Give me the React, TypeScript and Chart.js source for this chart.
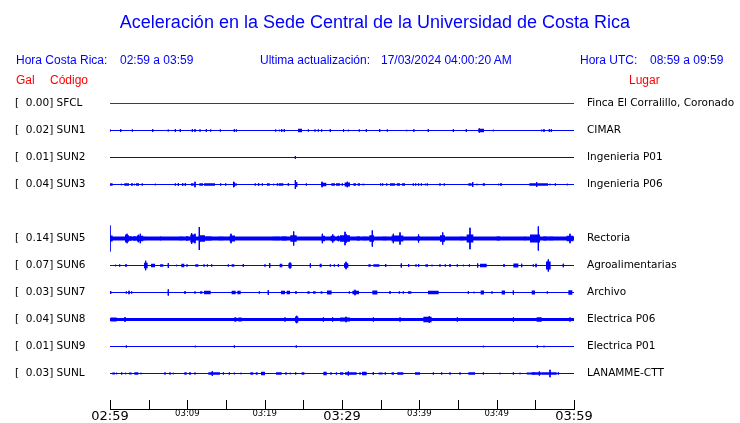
import React, { useEffect, useRef } from 'react';
import { Chart, registerables } from 'chart.js';

Chart.register(...registerables);

// ---------- data ----------
const stations = ['SFCL', 'SUN1', 'SUN2', 'SUN3', 'SUN5', 'SUN6', 'SUN7', 'SUN8', 'SUN9', 'SUNL'];
const slots = [0, 1, 2, 3, 5, 6, 7, 8, 9, 10];
const peakGal = ['0.00', '0.02', '0.01', '0.04', '0.14', '0.07', '0.03', '0.04', '0.01', '0.03'];
const places = [
  'Finca El Corralillo, Coronado', 'CIMAR', 'Ingenieria P01', 'Ingenieria P06', 'Rectoria',
  'Agroalimentarias', 'Archivo', 'Electrica P06', 'Electrica P01', 'LANAMME-CTT',
];
const xTickMinutes = [0, 10, 20, 30, 40, 50, 60];
const xTickLabels = ['02:59', '03:09', '03:19', '03:29', '03:39', '03:49', '03:59'];
const xBigLabelMinutes = [0, 30, 60];
const xMarkMinutes = [0, 5, 10, 15, 20, 25, 30, 35, 40, 45, 50, 55, 60];

// events: [start minute, end minute, half amplitude]
const eventsSFCL: number[][] = [];
const eventsSUN1 = [
  [0, 0, 1], [1.38, 1.38, 1.3], [2.89, 2.89, 1], [5.52, 5.52, 1.3], [7.46, 7.6, 1.3], [8.45, 8.45, 1.3],
  [9.09, 9.09, 1.3], [10.65, 10.65, 1.3], [10.99, 10.99, 1.3], [11.64, 11.64, 1], [12.46, 12.46, 1.3],
  [12.93, 13.1, 1.3], [14.27, 14.27, 1], [16.08, 16.08, 1.3], [16.34, 16.34, 1], [21.34, 21.5, 1.3],
  [21.9, 21.9, 0.7], [22.2, 22.2, 1.3], [22.54, 22.54, 1.3], [24.31, 24.83, 1.7], [25.65, 25.65, 1],
  [26.42, 26.6, 1.3], [26.94, 26.94, 1], [27.37, 27.37, 1], [28.49, 28.49, 1.3], [30.2, 30.2, 1.3],
  [30.82, 30.82, 0.7], [32.24, 32.24, 1], [33.15, 33.15, 1.3], [34.87, 34.87, 1.3], [35.78, 35.95, 1.3],
  [38.28, 38.45, 0.7], [39.18, 39.4, 1.3], [41.16, 41.16, 1.3], [44.4, 44.4, 1.3], [46.08, 46.08, 1.3],
  [47.63, 48.36, 1.7], [47.76, 47.76, 2], [49.57, 49.57, 0.7], [55.73, 55.9, 1], [56.12, 56.12, 1.3],
  [56.81, 56.81, 1.3], [57.07, 57.07, 1.3],
];
const eventsSUN2 = [[23.97, 23.97, 1.3]];
const eventsSUN3 = [
  [0, 0.34, 1.3], [1.47, 1.47, 0.7], [1.85, 2.46, 1.3], [2.72, 2.97, 1.3], [3.15, 3.15, 0.7], [3.36, 3.75, 1.3],
  [4.18, 4.18, 1], [5.86, 5.86, 0.7], [8.45, 8.45, 1], [8.84, 8.84, 1.3], [9.4, 9.4, 1.3], [9.74, 9.74, 1.3],
  [10.47, 10.82, 1.3], [10.99, 10.99, 2.7], [11.55, 12.03, 1.3], [12.16, 13.58, 1.3], [14.31, 14.31, 1],
  [14.96, 14.96, 1], [15.9, 16.16, 2.3], [15.99, 15.99, 2.7], [16.29, 16.29, 1], [18.79, 18.79, 1],
  [19.22, 19.22, 1.3], [19.7, 19.7, 1], [20.3, 20.65, 1.3], [21.16, 21.16, 0.7], [21.64, 21.64, 1],
  [21.81, 22.41, 1.3], [23.06, 23.06, 1.3], [23.97, 23.97, 4.5], [24.14, 24.14, 2.3], [25.39, 25.39, 1],
  [27.28, 27.97, 1.7], [27.42, 27.42, 2.7], [28.62, 29.09, 1.3], [29.22, 29.74, 1.3], [30.04, 30.04, 1],
  [30.34, 31.03, 2], [30.69, 30.69, 2.7], [31.47, 31.81, 1.3], [32.03, 32.33, 1.3], [32.59, 32.93, 0.7],
  [35.0, 35.0, 1], [35.26, 35.26, 1], [35.78, 35.78, 1], [36.21, 36.85, 1.3], [37.07, 37.5, 1.3],
  [37.76, 38.15, 1.3], [39.22, 39.22, 1], [39.53, 39.53, 1], [39.91, 39.91, 1], [40.26, 40.26, 1],
  [40.78, 40.78, 0.7], [41.03, 41.03, 1], [42.67, 42.67, 1], [43.23, 43.23, 1], [46.34, 46.77, 1.3],
  [46.9, 46.9, 2.3], [47.46, 47.46, 0.7], [48.19, 48.49, 1.3], [50.26, 50.26, 0.7], [50.43, 50.69, 1.3],
  [54.22, 55.17, 1.3], [55.17, 55.17, 2.3], [55.22, 56.64, 1.3], [56.9, 56.9, 0.7], [57.59, 57.59, 1],
  [59.14, 59.14, 0.7],
];
const eventsSUN5 = [
  [0, 0, 13], [0, 0.34, 3], [1.94, 2.46, 3.3], [2.03, 2.03, 3.7], [2.2, 2.2, 4.7], [2.5, 2.8, 2.3],
  [3.02, 3.32, 2.3], [3.45, 4.31, 2.7], [3.66, 3.66, 3.7], [3.92, 3.92, 4.7], [4.44, 4.61, 1.7],
  [4.87, 5.17, 1.3], [5.39, 5.39, 1.3], [5.69, 5.69, 1.3], [5.95, 5.95, 1.3], [6.25, 6.25, 1.3],
  [6.55, 6.55, 1.7], [7.33, 7.33, 1], [8.53, 8.53, 1.3], [8.92, 9.48, 1.7], [9.83, 10.13, 2.3],
  [10.39, 10.99, 4], [10.56, 10.56, 5.3], [10.99, 10.99, 4.7], [11.55, 11.55, 11.5], [11.59, 12.28, 3.3],
  [12.28, 13.15, 2], [13.15, 13.79, 1.3], [14.01, 14.66, 1.7], [14.87, 15.17, 1.3], [15.47, 16.16, 3],
  [15.65, 15.65, 4.7], [16.51, 16.51, 1.3], [17.03, 17.46, 1], [17.67, 18.32, 1], [18.75, 19.61, 1],
  [20.04, 20.04, 1], [21.03, 21.98, 1.7], [22.2, 22.84, 2], [23.32, 24.14, 3.3], [23.75, 23.75, 7],
  [24.7, 25.43, 1.3], [26.29, 26.29, 1.3], [27.37, 27.8, 2.7], [27.46, 27.46, 4.7], [28.02, 28.02, 1.3],
  [28.53, 29.09, 2.7], [28.8, 28.8, 4], [29.31, 30.39, 2], [29.53, 29.53, 2.7], [29.74, 31.03, 3.3],
  [30.39, 30.39, 6.7], [30.52, 30.52, 4.3], [31.9, 32.33, 2], [32.67, 33.28, 1.7], [33.53, 34.14, 3.3],
  [33.92, 33.92, 8], [35.26, 35.78, 1.7], [36.42, 37.93, 3], [36.64, 36.64, 4.7], [37.5, 37.5, 6],
  [38.36, 38.79, 1.3], [39.01, 39.22, 1.3], [39.74, 40.09, 2.3], [39.9, 39.9, 4], [40.73, 40.73, 1.3],
  [41.29, 41.29, 1.3], [41.81, 41.81, 1.3], [42.24, 42.24, 1.3], [42.67, 43.32, 3.3], [43.02, 43.02, 6],
  [43.75, 43.75, 1.3], [44.4, 44.4, 1.3], [45.26, 45.69, 1.7], [46.12, 46.98, 4], [46.55, 46.55, 10.7],
  [48.28, 49.57, 1.3], [50.0, 50.43, 2], [53.23, 53.23, 1.3], [53.66, 53.66, 1.7], [54.31, 55.6, 4],
  [55.39, 55.39, 12], [56.03, 56.47, 2], [56.68, 57.33, 1.7], [57.54, 58.62, 1.3], [59.05, 59.91, 2.7],
  [59.48, 59.48, 4.7],
];
const eventsSUN6 = [
  [0.73, 0.73, 0.7], [1.25, 1.25, 1], [1.94, 2.2, 1.3], [4.4, 4.87, 2.7], [4.61, 4.61, 4.7], [5.3, 5.82, 1.7],
  [6.47, 6.9, 1.3], [7.54, 7.54, 2.3], [8.62, 8.62, 0.7], [9.22, 9.61, 1.7], [9.96, 9.96, 1], [11.03, 11.42, 1.3],
  [12.16, 12.16, 1], [12.59, 12.59, 1], [13.15, 13.15, 1], [15.3, 15.3, 1], [15.73, 16.08, 1.3],
  [17.24, 17.24, 1.3], [20.04, 20.04, 1], [20.65, 20.65, 2.3], [21.94, 22.28, 1.7], [23.06, 23.49, 2.3],
  [23.28, 23.28, 3], [25.91, 25.91, 2], [27.11, 27.37, 1.7], [28.49, 28.49, 1], [29.01, 29.01, 1],
  [29.53, 29.53, 1.3], [30.26, 30.82, 2.3], [30.52, 30.52, 3.7], [33.41, 33.71, 1.3], [34.05, 34.83, 1.3],
  [35.65, 35.65, 1.3], [37.67, 37.67, 2], [38.62, 38.62, 1.3], [39.57, 39.57, 1], [39.91, 39.91, 1.3],
  [40.78, 41.12, 1.3], [41.64, 41.64, 0.7], [42.67, 42.67, 1], [43.36, 43.36, 1], [43.97, 43.97, 1.3],
  [44.91, 44.91, 1], [45.69, 45.69, 0.7], [46.47, 46.47, 1], [47.54, 47.54, 2], [47.84, 48.71, 1.7],
  [50.95, 50.95, 1.3], [52.16, 52.8, 2], [53.23, 53.23, 1.7], [54.74, 54.74, 1], [55.09, 55.09, 1.7],
  [56.38, 56.98, 4], [56.68, 56.68, 6], [58.62, 58.62, 1.7],
];
const eventsSUN7 = [
  [0.09, 0.09, 1.3], [2.11, 2.11, 1], [2.46, 2.46, 1.7], [2.8, 2.8, 1], [7.54, 7.54, 3], [9.7, 9.7, 1.3],
  [10.99, 10.99, 1], [11.64, 11.94, 1.3], [12.16, 13.02, 1.7], [15.73, 16.25, 1.7], [16.47, 16.9, 1.7],
  [19.31, 19.31, 1], [20.47, 20.47, 2.3], [22.11, 22.63, 1.7], [22.84, 23.28, 1.7], [24.05, 24.05, 1.3],
  [25.52, 25.82, 1.3], [26.25, 26.59, 1.3], [27.24, 27.46, 1.3], [28.06, 28.66, 2], [30.95, 30.95, 1],
  [31.34, 32.2, 1.7], [31.68, 31.68, 2.7], [33.92, 34.57, 2], [36.21, 36.21, 1.3], [37.41, 37.41, 1],
  [37.93, 37.93, 1], [38.53, 38.97, 1.3], [41.12, 42.5, 1.7], [46.34, 46.34, 1.3], [47.07, 47.07, 0.7],
  [47.93, 48.36, 2], [49.4, 49.4, 1], [50.65, 51.08, 2], [52.16, 52.16, 2], [54.53, 54.96, 2],
  [56.55, 56.55, 1], [59.27, 59.78, 2.3],
];
const eventsSUN8 = [
  [0.09, 0.86, 2], [1.94, 1.94, 2.3], [16.08, 16.34, 2.3], [16.59, 17.03, 2], [22.63, 22.63, 2],
  [23.92, 24.35, 3], [24.14, 24.14, 3.7], [27.59, 27.59, 2], [28.79, 28.79, 2], [29.74, 31.03, 2],
  [30.52, 30.52, 2.7], [34.05, 34.05, 2], [37.5, 37.5, 2], [40.52, 41.59, 2.7], [41.29, 41.29, 3.3],
  [44.91, 44.91, 2], [52.16, 52.16, 2], [55.17, 55.82, 2.3], [59.48, 59.48, 2],
];
const eventsSUN9 = [
  [2.11, 2.11, 1], [11.03, 11.03, 0.7], [16.08, 16.08, 1], [24.09, 24.09, 1], [48.28, 48.28, 0.7],
  [55.26, 55.26, 1], [56.12, 56.12, 0.7],
];
const eventsSUNL = [
  [0.3, 0.65, 1], [0.86, 0.86, 0.7], [1.51, 1.51, 1], [2.03, 2.03, 0.7], [2.46, 2.8, 1], [3.15, 3.66, 1.3],
  [4.01, 4.01, 0.7], [7.11, 7.11, 1], [7.76, 7.76, 1], [8.19, 8.19, 0.7], [9.61, 9.91, 1.3], [10.22, 10.47, 1.3],
  [10.91, 11.08, 1.3], [12.72, 14.22, 1.3], [13.23, 13.23, 2.3], [14.66, 14.66, 1], [15.43, 15.43, 1],
  [16.0, 16.16, 1], [16.94, 16.94, 0.7], [18.15, 18.53, 1.3], [18.84, 19.09, 1.3], [19.53, 20.04, 1.7],
  [21.47, 22.2, 1.3], [22.76, 22.76, 1], [23.32, 23.32, 0.7], [24.01, 24.01, 1], [24.78, 25.13, 1.3],
  [27.59, 28.02, 1.7], [28.58, 28.58, 1], [29.27, 29.27, 1], [29.74, 30.17, 1.3], [30.39, 31.9, 1.3],
  [30.82, 30.82, 2], [32.33, 32.33, 1], [32.59, 33.19, 1.7], [34.05, 34.05, 1.3], [34.74, 35.26, 1],
  [35.6, 35.6, 1], [36.42, 36.72, 1.3], [37.16, 37.93, 1.3], [39.44, 40.09, 1.3], [41.81, 41.81, 1],
  [42.89, 42.89, 1], [43.97, 43.97, 1], [45.26, 45.26, 1], [46.34, 47.2, 1.3], [48.28, 48.28, 1],
  [50.43, 50.43, 0.7], [52.16, 52.16, 1], [53.02, 53.02, 0.7], [53.88, 54.96, 1], [54.53, 55.82, 1.3],
  [55.52, 55.52, 2], [55.82, 57.76, 1.3], [56.9, 56.9, 3.7], [57.97, 57.97, 1],
];
const stationEvents = [
  eventsSFCL, eventsSUN1, eventsSUN2, eventsSUN3, eventsSUN5,
  eventsSUN6, eventsSUN7, eventsSUN8, eventsSUN9, eventsSUNL,
];

// ---------- styles ----------
const SLOT = 27;
const BLUE = '#0000ff';
const RED = '#ff0000';
const LABEL_FONT = { family: 'DejaVu Sans', size: 10.5 };
const traceColor = (name: string) => (name === 'SFCL' ? '#d40000' : BLUE);
const baseWidth = (name: string) => (name === 'SUN5' ? 4 : name === 'SUN8' ? 3 : 1);

const tickMarksPlugin = {
  id: 'tickMarks',
  afterDraw(chart: any) {
    const { ctx, scales, chartArea } = chart;
    const xs = scales.x;
    ctx.save();
    ctx.strokeStyle = '#000';
    ctx.lineWidth = 1;
    ctx.beginPath();
    xMarkMinutes.forEach((m) => {
      const px = Math.round(xs.getPixelForValue(m)) + 0.5;
      ctx.moveTo(px, chartArea.bottom);
      ctx.lineTo(px, chartArea.bottom - 9);
    });
    ctx.stroke();
    ctx.restore();
  },
};

export default function App() {
  const ref = useRef<HTMLCanvasElement>(null);

  useEffect(() => {
    document.body.style.margin = '0';
    const datasets: any[] = [];
    stations.forEach((name, i) => {
      const base = slots[i] * SLOT;
      datasets.push({
        type: 'line',
        data: [{ x: 0, y: base }, { x: 60, y: base }],
        borderColor: traceColor(name),
        borderWidth: baseWidth(name),
        pointRadius: 0,
      });
      const pts: any[] = [];
      stationEvents[i].forEach(([t0, t1, a]) => {
        const mid = (t0 + t1) / 2;
        pts.push({ x: mid, y: base - a, t0, t1 });
        pts.push({ x: mid, y: base + a, t0, t1 });
        pts.push({ x: mid, y: null });
      });
      if (pts.length) {
        datasets.push({
          type: 'line',
          data: pts,
          borderColor: traceColor(name),
          borderWidth: 1,
          pointRadius: 0,
          spanGaps: false,
          segment: {
            borderWidth: (c: any) => {
              const d = c.chart.data.datasets[c.datasetIndex].data[c.p0DataIndex];
              const xs = c.chart.scales.x;
              if (!d || d.t0 === undefined) return 1;
              const w = xs.getPixelForValue(d.t1) - xs.getPixelForValue(d.t0);
              return Math.max(1, w);
            },
          },
        });
      }
    });

    const chart = new Chart(ref.current as HTMLCanvasElement, {
      type: 'line',
      data: { datasets },
      plugins: [tickMarksPlugin],
      options: {
        animation: false,
        responsive: false,
        devicePixelRatio: 1,
        layout: { padding: { left: 15, top: 89, right: 0, bottom: 0 } },
        plugins: { legend: { display: false }, tooltip: { enabled: false }, title: { display: false } },
        scales: {
          x: {
            type: 'linear',
            min: 0,
            max: 60,
            grid: { display: false, drawTicks: false },
            border: { display: true, color: '#000', width: 1 },
            afterFit: (s: any) => { s.height = 14; },
            afterBuildTicks: (s: any) => { s.ticks = xTickMinutes.map((v) => ({ value: v })); },
            ticks: {
              autoSkip: false,
              maxRotation: 0,
              padding: 0,
              color: '#000',
              font: (c: any) => ({
                family: 'DejaVu Sans',
                size: c.tick && xBigLabelMinutes.includes(c.tick.value) ? 13 : 8.5,
              }),
              callback: (v: any) => {
                const k = xTickMinutes.indexOf(Number(v));
                return k >= 0 ? xTickLabels[k] : '';
              },
            },
          },
          y: {
            type: 'linear',
            position: 'left',
            reverse: true,
            min: -14.5,
            max: 305.5,
            grid: { display: false, drawTicks: false },
            border: { display: false },
            afterFit: (s: any) => { s.width = 95; },
            afterBuildTicks: (s: any) => { s.ticks = slots.map((v) => ({ value: v * SLOT })); },
            ticks: {
              autoSkip: false,
              crossAlign: 'far',
              padding: 0,
              color: '#000',
              font: LABEL_FONT,
              callback: (_v: any, idx: number) => `[  ${peakGal[idx]}] ${stations[idx]}`,
            },
          },
          y2: {
            type: 'linear',
            position: 'right',
            reverse: true,
            min: -14.5,
            max: 305.5,
            grid: { display: false, drawTicks: true, tickLength: 13 },
            border: { display: false },
            afterFit: (s: any) => { s.width = 166; },
            afterBuildTicks: (s: any) => { s.ticks = slots.map((v) => ({ value: v * SLOT })); },
            ticks: {
              autoSkip: false,
              crossAlign: 'near',
              padding: 0,
              color: '#000',
              font: LABEL_FONT,
              callback: (_v: any, idx: number) => places[idx],
            },
          },
        },
      } as any,
    });
    return () => chart.destroy();
  }, []);

  const txt = (left: number, top: number, text: string, color: string, size = 12): React.ReactNode => (
    <div
      style={{
        position: 'absolute', left, top, color, fontFamily: '"Liberation Sans", Arial, sans-serif',
        fontSize: size, lineHeight: `${Math.round(size * 1.17)}px`, whiteSpace: 'pre',
      }}
    >
      {text}
    </div>
  );

  return (
    <div style={{ position: 'absolute', left: 0, top: 0, width: 740, height: 423, background: '#fff', overflow: 'hidden' }}>
      <canvas ref={ref} width={740} height={423} style={{ position: 'absolute', left: 0, top: 0 }} />
      <div
        style={{
          position: 'absolute', left: 0, top: 12, width: 750, textAlign: 'center', color: BLUE,
          fontFamily: '"Liberation Sans", Arial, sans-serif', fontSize: 18, lineHeight: '21px',
        }}
      >
        Aceleración en la Sede Central de la Universidad de Costa Rica
      </div>
      {txt(16, 53, 'Hora Costa Rica:', BLUE)}
      {txt(120, 53, '02:59 a 03:59', BLUE)}
      {txt(260, 53, 'Ultima actualización:', BLUE)}
      {txt(381, 53, '17/03/2024 04:00:20 AM', BLUE)}
      {txt(580, 53, 'Hora UTC:', BLUE)}
      {txt(650, 53, '08:59 a 09:59', BLUE)}
      {txt(16, 73, 'Gal', RED)}
      {txt(50, 73, 'Código', RED)}
      {txt(629, 73, 'Lugar', RED)}
    </div>
  );
}
